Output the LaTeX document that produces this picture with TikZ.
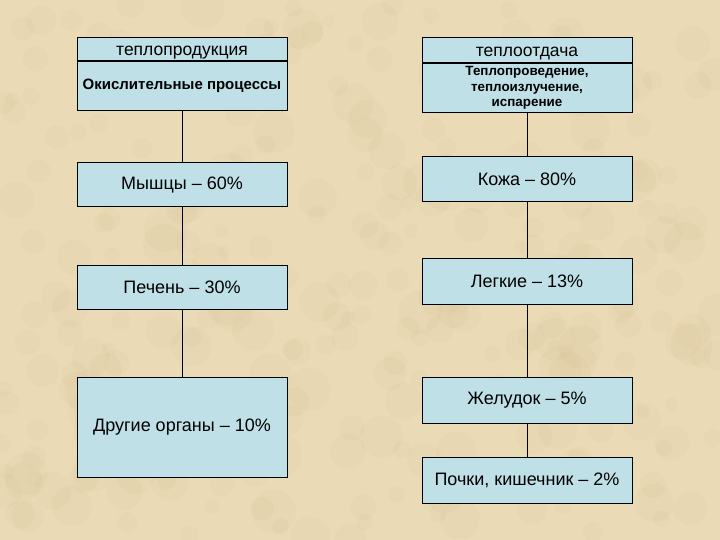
\documentclass[tikz,border=0pt]{standalone}
\usepackage{fontspec}
\setmainfont{Liberation Sans}
\usetikzlibrary{positioning}
\definecolor{parchment}{RGB}{234,218,182}
\definecolor{blotch}{RGB}{205,180,135}
\definecolor{boxblue}{RGB}{190,224,230}
\tikzset{
    box/.style={draw=black,line width=1pt,fill=boxblue,inner sep=1pt,
                minimum width=210,align=center,
                font=\fontsize{18}{21}\selectfont},
    head/.style={box,minimum height=23,text height=13,text depth=0,
                 font=\fontsize{17.5}{20}\selectfont},
    body/.style={box,minimum height=49,font=\fontsize{13.4}{15.5}\selectfont\bfseries},
    link/.style={draw=black,line width=0.8pt}
}

\begin{document}
\begin{tikzpicture}[x=1pt,y=-1pt]

  \useasboundingbox (0,0) rectangle (720,540);
  % parchment background
  \begin{scope}
    \clip (0,0) rectangle (720,540);
    \fill[parchment] (0,0) rectangle (720,540);
    \pgfmathsetseed{7}
    \foreach \i in {1,...,300}{
      \fill[blotch,opacity=0.08] (rnd*720,rnd*540) circle ({6+rnd*16});
    }
  \end{scope}

  % heat production
  \node[head,anchor=north] (prod) at (182,37) {теплопродукция};
  \node[body,below=0pt of prod,font=\fontsize{15}{18}\selectfont\bfseries] (oxid)
       {Окислительные процессы};
  \node[box,minimum height=44] (muscle) at (182,185) {Мышцы – 60\%};
  \node[box,minimum height=44] (liver) at (182,287) {Печень – 30\%};
  \node[box,minimum height=100] (other) at (182,427) {Другие органы – 10\%};

  % heat loss
  \node[head,anchor=north,minimum height=25] (loss) at (527,37) {теплоотдача};
  \node[body,below=0pt of loss] (ways)
       {Теплопроведение,\\теплоизлучение,\\испарение};
  \node[box,minimum height=45] (skin) at (527,179.5) {Кожа – 80\%};
  \node[box,minimum height=46] (lungs) at (527,281) {Легкие – 13\%};
  \node[box,minimum height=46] (stomach) at (527,400) {Желудок – 5\%};
  \node[box,minimum height=46] (kidney) at (527,480) {Почки, кишечник – 2\%};

  \draw[link] (oxid) -- (muscle);
  \draw[link] (muscle) -- (liver);
  \draw[link] (liver) -- (other);

  \draw[link] (ways) -- (skin);
  \draw[link] (skin) -- (lungs);
  \draw[link] (lungs) -- (stomach);
  \draw[link] (stomach) -- (kidney);

\end{tikzpicture}
\end{document}
